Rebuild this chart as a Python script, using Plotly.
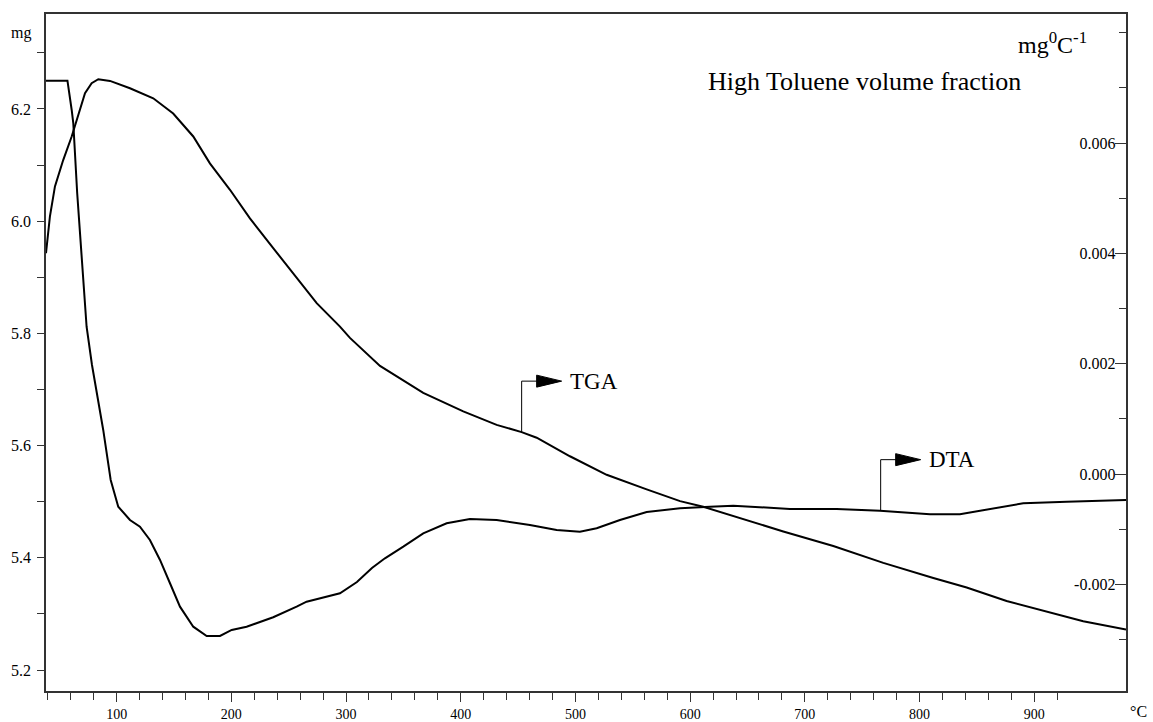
import plotly.graph_objects as go

# ---------------- data ----------------
temp_tga = [38.4, 41.8, 46.2, 53.4, 60.8, 68.0, 72.4, 78.2, 84.0, 94.2, 111.6, 131.9, 149.3,
            166.8, 181.3, 198.8, 216.2, 236.5, 254.0, 274.4, 294.7, 303.4, 329.6, 367.3, 402.2,
            431.3, 453.1, 466.2, 495.2, 527.2, 562.1, 591.2, 611.4, 637.6, 681.2, 724.8, 768.4,
            812.0, 841.1, 875.9, 913.7, 942.7, 980.0]
tga_mg = [5.943, 6.008, 6.062, 6.109, 6.151, 6.198, 6.228, 6.246, 6.253, 6.250, 6.237, 6.219, 6.192,
          6.151, 6.103, 6.056, 6.005, 5.952, 5.907, 5.854, 5.812, 5.792, 5.742, 5.694, 5.661,
          5.637, 5.624, 5.614, 5.581, 5.548, 5.522, 5.501, 5.491, 5.474, 5.447, 5.421, 5.391,
          5.364, 5.347, 5.323, 5.302, 5.287, 5.272]

temp_dta = [38.4, 57.1, 60.8, 62.2, 65.6, 69.5, 73.8, 78.5, 84.0, 88.3, 94.8, 101.4, 111.6, 120.3,
            129.0, 137.8, 146.5, 155.2, 166.8, 178.5, 190.1, 200.3, 213.3, 236.5, 256.9, 265.6,
            294.7, 309.5, 322.6, 333.9, 349.9, 367.3, 387.7, 408.0, 431.3, 460.3, 483.6, 503.9,
            518.5, 538.8, 562.1, 591.2, 617.3, 637.6, 687.0, 727.7, 765.5, 809.1, 835.2, 864.3,
            890.4, 928.3, 980.0]
dta_val = [0.007129, 0.007129, 0.006598, 0.006357, 0.005089, 0.003880, 0.002672, 0.001978, 0.001344,
           0.000801, -0.000105, -0.000589, -0.000830, -0.000951, -0.001192, -0.001554, -0.001976,
           -0.002400, -0.002763, -0.002931, -0.002931, -0.002822, -0.002763, -0.002592, -0.002400,
           -0.002310, -0.002158, -0.001953, -0.001699, -0.001524, -0.001313, -0.001071, -0.000889,
           -0.000812, -0.000830, -0.000920, -0.001011, -0.001042, -0.000980, -0.000830, -0.000685,
           -0.000618, -0.000589, -0.000571, -0.000630, -0.000630, -0.000661, -0.000726, -0.000726,
           -0.000618, -0.000527, -0.000498, -0.000467]

x_ticks = [100, 200, 300, 400, 500, 600, 700, 800, 900]
left_ticks = [5.2, 5.4, 5.6, 5.8, 6.0, 6.2]
right_ticks = [-0.002, 0.000, 0.002, 0.004, 0.006]
right_ticktext = ["-0.002", "0.000", "0.002", "0.004", "0.006"]

# label anchors on the curves (temperature, value)
tga_label_at = (453.1, 5.624)
dta_label_at = (766.1, -0.000661)

FONT = "Liberation Serif, Times New Roman, serif"
AX = "#333333"

fig = go.Figure()
fig.add_trace(go.Scatter(x=temp_tga, y=tga_mg, mode="lines", yaxis="y",
                         line=dict(color="black", width=2), name="TGA", showlegend=False))
fig.add_trace(go.Scatter(x=temp_dta, y=dta_val, mode="lines", yaxis="y2",
                         line=dict(color="black", width=2), name="DTA", showlegend=False))

shapes = []
annotations = []
for (tx, ty), yref, txt in [(tga_label_at, "y", "TGA"), (dta_label_at, "y2", "DTA")]:
    shapes.append(dict(type="path", xref="x", yref=yref, xsizemode="pixel", ysizemode="pixel",
                       xanchor=tx, yanchor=ty, path="M0,0 L0,51 L16,51",
                       line=dict(color="black", width=1)))
    shapes.append(dict(type="path", xref="x", yref=yref, xsizemode="pixel", ysizemode="pixel",
                       xanchor=tx, yanchor=ty, path="M15,57 L40,51 L15,45 Z",
                       fillcolor="black", line=dict(color="black", width=1)))
    annotations.append(dict(x=tx, y=ty, xref="x", yref=yref, text=txt, showarrow=False,
                            xanchor="left", yanchor="middle", xshift=46, yshift=51,
                            font=dict(family=FONT, size=23, color="black")))

annotations += [
    dict(x=0.611, y=0.8996, xref="paper", yref="paper", text="High Toluene volume fraction",
         showarrow=False, xanchor="left", yanchor="middle",
         font=dict(family=FONT, size=26, color="black")),
    dict(x=0.9655, y=0.957, xref="paper", yref="paper", text="mg<sup>0</sup>C<sup>-1</sup>",
         showarrow=False, xanchor="right", yanchor="middle",
         font=dict(family=FONT, size=24, color="black")),
    dict(x=-0.012, y=0.972, xref="paper", yref="paper", text="mg",
         showarrow=False, xanchor="right", yanchor="middle",
         font=dict(family=FONT, size=16, color="black")),
    dict(x=1.0023, y=-0.031, xref="paper", yref="paper", text="°C",
         showarrow=False, xanchor="left", yanchor="middle",
         font=dict(family=FONT, size=16, color="black")),
]

fig.update_layout(
    width=1153, height=722,
    margin=dict(l=46, r=27, t=14, b=31, pad=0),
    paper_bgcolor="white", plot_bgcolor="white",
    font=dict(family=FONT, size=16, color="black"),
    xaxis=dict(range=[38.4, 980], tickvals=x_ticks, ticks="outside", ticklen=9, tickwidth=1,
               tickcolor=AX, showline=True, linecolor=AX, linewidth=1.5, mirror=True,
               showgrid=False, zeroline=False, automargin=False,
               minor=dict(dtick=20, tick0=0, ticks="outside", ticklen=7, tickcolor=AX, showgrid=False),
               tickfont=dict(family=FONT, size=14, color="black")),
    yaxis=dict(range=[5.1626, 6.3693], tickvals=left_ticks, tickformat=".1f", ticks="outside",
               ticklen=7, tickwidth=1, tickcolor=AX, showline=True, linecolor=AX, linewidth=1.5,
               showgrid=False, zeroline=False, automargin=False, ticklabelstandoff=3,
               minor=dict(dtick=0.1, tick0=5.2, ticks="outside", ticklen=7, tickcolor=AX, showgrid=False),
               tickfont=dict(family=FONT, size=16, color="black")),
    yaxis2=dict(range=[-0.003928, 0.008337], overlaying="y", side="right",
                tickvals=right_ticks, ticktext=right_ticktext, ticks="inside",
                ticklabelposition="inside", ticklen=11, tickwidth=1, tickcolor=AX,
                showline=True, linecolor=AX, linewidth=1.5, showgrid=False, zeroline=False,
                automargin=False,
                minor=dict(dtick=0.001, tick0=0, ticks="inside", ticklen=7, tickcolor=AX, showgrid=False),
                tickfont=dict(family=FONT, size=16, color="black")),
    shapes=shapes,
    annotations=annotations,
)

fig.write_html("out.html")
